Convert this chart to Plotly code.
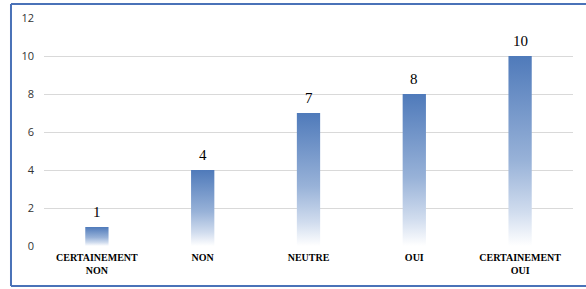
import plotly.graph_objects as go

categories = ["CERTAINEMENT<br>NON", "NON", "NEUTRE", "OUI", "CERTAINEMENT<br>OUI"]
values = [1, 4, 7, 8, 10]
y_ticks = [0, 2, 4, 6, 8, 10, 12]

half = 0.11
grad = [[0, "#ffffff"], [0.18, "#d0dcee"], [0.45, "#98b2d8"], [1, "#4f7aba"]]

fig = go.Figure()
for i, v in enumerate(values):
    fig.add_trace(go.Scatter(
        x=[i - half, i + half, i + half, i - half, i - half],
        y=[0, 0, v, v, 0],
        mode="lines", fill="toself",
        line=dict(width=0, color="rgba(0,0,0,0)"),
        fillgradient=dict(type="vertical", colorscale=grad),
        hoverinfo="skip", showlegend=False,
    ))

annotations = [
    dict(x=i, y=v, xref="x", yref="y", text=str(v), showarrow=False,
         yanchor="bottom", yshift=5,
         font=dict(family="Liberation Serif", size=15, color="#000000"))
    for i, v in enumerate(values)
]

line_col = "#4a72b8"
shapes = [
    dict(type="line", xref="paper", yref="paper", x0=-0.0624, x1=-0.0624, y0=-0.1754, y1=1.0614,
         line=dict(color=line_col, width=2)),
    dict(type="line", xref="paper", yref="paper", x0=-0.0624, x1=1.03, y0=1.0614, y1=1.0614,
         line=dict(color=line_col, width=2)),
    dict(type="line", xref="paper", yref="paper", x0=-0.0624, x1=1.03, y0=-0.1754, y1=-0.1754,
         line=dict(color=line_col, width=2)),
]

fig.update_layout(
    width=586, height=289,
    margin=dict(l=44, r=13, t=18, b=43, autoexpand=False),
    paper_bgcolor="white", plot_bgcolor="white",
    shapes=shapes, annotations=annotations,
    xaxis=dict(range=[-0.5, 4.5], tickvals=list(range(len(categories))), ticktext=categories,
               showgrid=False, zeroline=False, showline=False, ticks="", automargin=False,
               ticklabelstandoff=4,
               tickfont=dict(family="Liberation Serif", size=10, color="#000000", weight="bold")),
    yaxis=dict(range=[0, 12], tickvals=y_ticks, showgrid=True, gridcolor="#d9d9d9", gridwidth=1,
               zeroline=False, showline=False, ticks="", ticklabelstandoff=9, automargin=False,
               tickfont=dict(family="Open Sans", size=11, color="#333333")),
)

fig.write_html("out.html", config={"displayModeBar": False},
               post_script="document.body.style.margin='0';document.body.style.overflow='hidden';")
